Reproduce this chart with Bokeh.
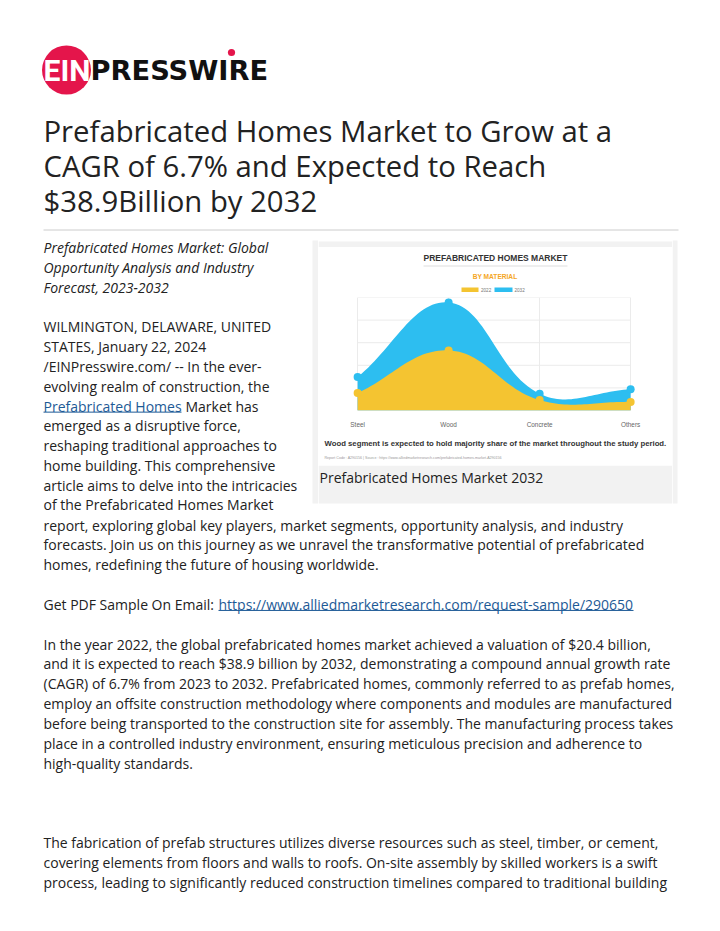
from bokeh.plotting import figure
from bokeh.layouts import column, row
from bokeh.models import Range1d, FixedTicker
from bokeh.core.properties import value
from bokeh.embed import file_html
from bokeh.resources import INLINE
import math

# ---------------- chart data ----------------
materials = ["Steel", "Wood", "Concrete", "Others"]
values_2022 = [3.85, 13.3, 2.3, 1.9]
values_2032 = [7.4, 23.9, 3.7, 4.7]
y_ticks = [0, 5, 10, 15, 20, 25]
series_names = ["2022", "2032"]
series_colors = ["#F4C431", "#2DBEF0"]

# ---------------- page text ----------------
title_lines = ["Prefabricated Homes Market to Grow at a",
               "CAGR of 6.7% and Expected to Reach",
               "$38.9Billion by 2032"]
italic_lines = ["Prefabricated Homes Market: Global",
                "Opportunity Analysis and Industry",
                "Forecast, 2023-2032"]
left_lines = {4: "WILMINGTON, DELAWARE, UNITED",
              5: "STATES, January 22, 2024",
              6: "/EINPresswire.com/ -- In the ever-",
              7: "evolving realm of construction, the",
              9: "emerged as a disruptive force,",
              10: "reshaping traditional approaches to",
              11: "home building. This comprehensive",
              12: "article aims to delve into the intricacies",
              13: "of the Prefabricated Homes Market"}
link1 = "Prefabricated Homes"
link1_rest = "Market has"
body_lines = {14: "report, exploring global key players, market segments, opportunity analysis, and industry",
              15: "forecasts. Join us on this journey as we unravel the transformative potential of prefabricated",
              16: "homes, redefining the future of housing worldwide.",
              20: "In the year 2022, the global prefabricated homes market achieved a valuation of $20.4 billion,",
              21: "and it is expected to reach $38.9 billion by 2032, demonstrating a compound annual growth rate",
              22: "(CAGR) of 6.7% from 2023 to 2032. Prefabricated homes, commonly referred to as prefab homes,",
              23: "employ an offsite construction methodology where components and modules are manufactured",
              24: "before being transported to the construction site for assembly. The manufacturing process takes",
              25: "place in a controlled industry environment, ensuring meticulous precision and adherence to",
              26: "high-quality standards.",
              30: "The fabrication of prefab structures utilizes diverse resources such as steel, timber, or cement,",
              31: "covering elements from floors and walls to roofs. On-site assembly by skilled workers is a swift",
              32: "process, leading to significantly reduced construction timelines compared to traditional building"}
pdf_label = "Get PDF Sample On Email:"
pdf_url = "https://www.alliedmarketresearch.com/request-sample/290650"
chart_title = "PREFABRICATED HOMES MARKET"
chart_subtitle = "BY MATERIAL"
chart_note = "Wood segment is expected to hold majority share of the market throughout the study period."
chart_source = "Report Code : A290156  |  Source : https://www.alliedmarketresearch.com/prefabricated-homes-market-A290156"
caption = "Prefabricated Homes Market 2032"

TEXT = "#222222"
LINK = "#1d5a96"
GRAY_BOX = "#f2f2f2"
FONT = "Open Sans"
BODY = "14px"
LH = 19.83
C0 = 247.0
X0 = 43


def cl(n):
    y = C0 + n * LH
    return y - 1 if n == 13 else y


def tfig(x0, y0, w, h):
    p = figure(width=w, height=h, x_range=Range1d(x0, x0 + w), y_range=Range1d(y0 + h, y0),
               x_axis_location=None, y_axis_location=None, output_backend="svg",
               toolbar_location=None, min_border=0, outline_line_color=None)
    p.xgrid.grid_line_color = None
    p.ygrid.grid_line_color = None
    return p


def txt(p, xs, ys, texts, size=BODY, color=TEXT, font=FONT, style="normal", align="left"):
    p.text(x=xs, y=ys, text=texts, text_font=value(font), text_font_size=value(size),
           text_color=color, text_font_style=style, text_align=align, text_baseline="middle")


W = 720
MID0, MID1 = 236, 514

# ---------------- top: logo + headline ----------------
top = tfig(0, 0, W, MID0)
top.circle(x=[66], y=[69.5], radius=24.5, fill_color="#E4154B", line_color=None)
txt(top, [43], [69.5], ["EIN"], size="30px", color="white", font="Roboto", style="bold")
txt(top, [90], [69.5], ["PRESSWIRE"], size="27.3px", color="#111111", font="DejaVu Sans", style="bold")
top.circle(x=[231], y=[52], radius=3.6, fill_color="#E4154B", line_color=None)
txt(top, [X0] * 3, [130.8, 165.8, 200.8], title_lines, size="29.3px")
top.segment(x0=[43], y0=[229.5], x1=[678], y1=[229.5], line_color="#cccccc", line_width=1)

# ---------------- middle: left column ----------------
left = tfig(0, MID0, 318, MID1 - MID0)
left.quad(left=[312], right=[318], top=[240], bottom=[503], fill_color=GRAY_BOX, line_color=None)
txt(left, [X0] * 3, [cl(i) for i in range(3)], italic_lines, style="italic")
ks = sorted(left_lines)
txt(left, [X0] * len(ks), [cl(k) for k in ks], [left_lines[k] for k in ks])
txt(left, [X0], [cl(8)], [link1], color=LINK)
left.segment(x0=[X0], y0=[cl(8) + 6], x1=[181], y1=[cl(8) + 6], line_color=LINK, line_width=1)
txt(left, [185], [cl(8)], [link1_rest])

# ---------------- middle: chart image ----------------
CX0, CX1 = 318, 672
cap = tfig(CX0, MID0, CX1 - CX0, 11)
cap.quad(left=[CX0], right=[CX1], top=[240], bottom=[247], fill_color=GRAY_BOX, line_color=None)

head = tfig(CX0, 247, CX1 - CX0, 50)
txt(head, [495], [257], [chart_title], size="8.5px", color="#333333", font="Liberation Sans",
    style="bold", align="center")
head.segment(x0=[423], y0=[265.5], x1=[567], y1=[265.5], line_color="#dddddd", line_width=1)
txt(head, [494.5], [275.5], [chart_subtitle], size="6.6px", color="#F5A623", font="Liberation Sans",
    style="bold", align="center")
head.quad(left=[461, 494], right=[478, 512], top=[287, 287], bottom=[291.5, 291.5],
          fill_color=series_colors, line_color=None)
txt(head, [480.5, 514], [289.4, 289.4], series_names, size="4.6px", color="#777777",
    font="Liberation Sans")

n = len(materials)
xs = list(range(n))
PW, PH = CX1 - CX0, 133
plot = figure(width=PW, height=PH, x_range=Range1d(-0.43, 3.46), y_range=Range1d(0, 25),
              y_axis_location=None, output_backend="svg", toolbar_location=None,
              min_border=0, min_border_bottom=16, outline_line_color=None)
ticker = FixedTicker(ticks=xs)
plot.xaxis.ticker = ticker
plot.xaxis.major_label_overrides = {i: m for i, m in enumerate(materials)}
plot.xaxis.major_label_text_font = "Liberation Sans"
plot.xaxis.major_label_text_font_size = "6.4px"
plot.xaxis.major_label_text_color = "#666666"
plot.xaxis.major_label_standoff = 4
plot.xaxis.axis_line_color = None
plot.xaxis.major_tick_line_color = None
plot.xaxis.minor_tick_line_color = None
plot.xgrid.ticker = ticker
plot.xgrid.grid_line_color = "#ebebeb"
plot.ygrid.grid_line_color = None
plot.segment(x0=[xs[0]] * len(y_ticks), x1=[xs[-1]] * len(y_ticks), y0=y_ticks, y1=y_ticks,
             line_color="#ebebeb", line_width=1)

# smooth (Chart.js-style spline, tension 0.4) outline of each series
xr, yr = plot.x_range, plot.y_range
sx = PW / (xr.end - xr.start)
sy = (PH - 16) / (yr.end - yr.start)


def smooth(xv, yv, tension=0.4, steps=30):
    P = [(a * sx, b * sy) for a, b in zip(xv, yv)]
    cps = []
    for i, cur in enumerate(P):
        prev = P[i - 1] if i > 0 else cur
        nxt = P[i + 1] if i < len(P) - 1 else cur
        d01 = math.dist(cur, prev)
        d12 = math.dist(nxt, cur)
        tot = d01 + d12
        s01 = d01 / tot if tot else 0
        s12 = d12 / tot if tot else 0
        fa, fb = tension * s01, tension * s12
        cp_prev = [cur[0] - fa * (nxt[0] - prev[0]), cur[1] - fa * (nxt[1] - prev[1])]
        cp_next = [cur[0] + fb * (nxt[0] - prev[0]), cur[1] + fb * (nxt[1] - prev[1])]
        lo, hi = yr.start * sy, yr.end * sy
        cp_prev[1] = min(max(cp_prev[1], lo), hi)
        cp_next[1] = min(max(cp_next[1], lo), hi)
        cps.append((cp_prev, cp_next))
    ox, oy = [], []
    for i in range(len(P) - 1):
        p0, p3 = P[i], P[i + 1]
        p1, p2 = cps[i][1], cps[i + 1][0]
        for k in range(steps + (1 if i == len(P) - 2 else 0)):
            t = k / steps
            a, b, c, d = (1 - t) ** 3, 3 * (1 - t) ** 2 * t, 3 * (1 - t) * t ** 2, t ** 3
            ox.append((a * p0[0] + b * p1[0] + c * p2[0] + d * p3[0]) / sx)
            oy.append((a * p0[1] + b * p1[1] + c * p2[1] + d * p3[1]) / sy)
    return ox, oy


for vals, col in [(values_2032, series_colors[1]), (values_2022, series_colors[0])]:
    cx, cy = smooth(xs, vals)
    plot.patch(x=cx + [xs[-1], xs[0]], y=cy + [0, 0], fill_color=col, line_color=None)
plot.scatter(x=xs, y=values_2032, size=8, fill_color=series_colors[1], line_color=None)
plot.scatter(x=xs, y=values_2022, size=8, fill_color=series_colors[0], line_color=None)

foot = tfig(CX0, 430, CX1 - CX0, 35)
txt(foot, [324], [443], [chart_note], size="7.75px", color="#333333", font="Liberation Sans", style="bold")
txt(foot, [324], [457], [chart_source], size="3.6px", color="#999999", font="Liberation Sans")

capt = tfig(CX0, 465, CX1 - CX0, MID1 - 465)
capt.quad(left=[CX0], right=[CX1], top=[465], bottom=[503], fill_color=GRAY_BOX, line_color=None)
txt(capt, [319], [477], [caption])

right = tfig(CX1, MID0, W - CX1, MID1 - MID0)
right.quad(left=[672], right=[677], top=[240], bottom=[503], fill_color=GRAY_BOX, line_color=None)

# ---------------- bottom: body ----------------
bottom = tfig(0, MID1, W, 930 - MID1)
kb = sorted(body_lines)
txt(bottom, [X0] * len(kb), [cl(k) for k in kb], [body_lines[k] for k in kb])
txt(bottom, [X0], [cl(18)], [pdf_label])
txt(bottom, [218], [cl(18)], [pdf_url], color=LINK)
bottom.segment(x0=[218], y0=[cl(18) + 6], x1=[633], y1=[cl(18) + 6], line_color=LINK, line_width=1)

chart_col = column(cap, head, plot, foot, capt, spacing=0)
mid = row(left, chart_col, right, spacing=0)
page = column(top, mid, bottom, spacing=0)

open("out.html", "w").write(file_html(page, INLINE))
